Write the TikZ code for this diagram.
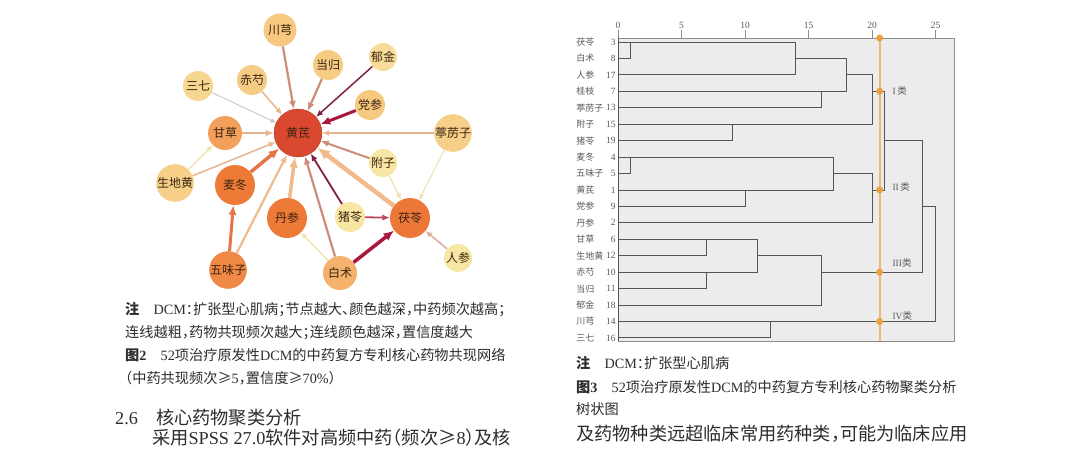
\documentclass[tikz,border=0pt]{standalone}
\usepackage{fontspec}
\setmainfont{Liberation Serif}
\newfontfamily\zh{Noto Sans CJK SC}[RawFeature={+halt}]
\usetikzlibrary{arrows.meta,positioning}
\definecolor{hqred}{RGB}{218,72,48}
\definecolor{deeporange}{RGB}{238,122,56}
\definecolor{midorange}{RGB}{242,160,92}
\definecolor{softorange}{RGB}{246,200,128}
\definecolor{paleyellow}{RGB}{247,230,164}
\definecolor{herbtext}{RGB}{60,36,16}
\definecolor{edgerose}{RGB}{205,140,120}
\definecolor{edgetan}{RGB}{232,182,142}
\definecolor{edgegray}{RGB}{200,196,190}
\definecolor{edgeplum}{RGB}{128,32,72}
\definecolor{edgecrimson}{RGB}{170,22,60}
\definecolor{edgeorange}{RGB}{230,118,74}
\definecolor{edgepeach}{RGB}{242,186,138}
\definecolor{edgepale}{RGB}{240,224,172}
\definecolor{captext}{RGB}{45,45,45}
\definecolor{boxgray}{RGB}{236,236,236}
\definecolor{boxedge}{RGB}{140,140,140}
\definecolor{treegray}{RGB}{85,85,85}
\definecolor{labgray}{RGB}{90,90,90}
\definecolor{cutorange}{RGB}{240,176,96}
\definecolor{dotorange}{RGB}{232,160,64}

\begin{document}
\begin{tikzpicture}[
  x=1pt,y=-1pt,
  herb/.style={circle,inner sep=0pt,font=\zh\fontsize{12}{12}\selectfont,text=herbtext},
  link/.style={-{Latex[length=4pt 1.9,width=3.5pt 1.6]}},
  capline/.style={anchor=west,inner sep=0pt,text=captext,font=\fontsize{14.2}{15}\selectfont},
  bodyline/.style={anchor=west,inner sep=0pt,text=captext,font=\fontsize{18.2}{20}\selectfont},
  treeline/.style={draw=treegray,line width=0.9pt},
  treelab/.style={inner sep=0pt,text=labgray,font=\fontsize{9.5}{10}\selectfont}
]
  \fill[white] (0,0) rectangle (1080,459);
  \useasboundingbox (0,0) rectangle (1080,459);

  % Co-occurrence network
  \node[herb,minimum size=48pt,fill=hqred,draw=hqred!80!black] (huangqi) at (298,133) {黄芪};
  \node[herb,minimum size=33pt,fill=softorange] (chuanxiong) at (280,30) {川芎};
  \node[herb,minimum size=30pt,fill=softorange!85!paleyellow] (danggui) at (328,65) {当归};
  \node[herb,minimum size=30pt,fill=softorange!90!paleyellow] (chishao) at (252,80) {赤芍};
  \node[herb,minimum size=30pt,fill=softorange!50!paleyellow] (sanqi) at (198,86) {三七};
  \node[herb,minimum size=28pt,fill=softorange!30!paleyellow] (yujin) at (383,57) {郁金};
  \node[herb,minimum size=30pt,fill=softorange] (dangshen) at (370,105) {党参};
  \node[herb,minimum size=32pt,fill=softorange!75!paleyellow] (tinglizi) at (453,133) {葶苈子};
  \node[herb,minimum size=34pt,fill=midorange] (gancao) at (225,133) {甘草};
  \node[herb,minimum size=32pt,fill=softorange!75!paleyellow] (shengdihuang) at (175,183) {生地黄};
  \node[herb,minimum size=28pt,fill=paleyellow] (fuzi) at (383,163) {附子};
  \node[herb,minimum size=40pt,fill=deeporange] (maidong) at (235,185) {麦冬};
  \node[herb,minimum size=40pt,fill=deeporange] (danshen) at (287,218) {丹参};
  \node[herb,minimum size=30pt,fill=paleyellow] (zhuling) at (350,217) {猪苓};
  \node[herb,minimum size=40pt,fill=deeporange!95!hqred] (fuling) at (410,218) {茯苓};
  \node[herb,minimum size=36pt,fill=deeporange!60!midorange] (wuweizi) at (228,270) {五味子};
  \node[herb,minimum size=34pt,fill=midorange!55!softorange] (baizhu) at (340,273) {白术};
  \node[herb,minimum size=28pt,fill=paleyellow] (renshen) at (458,258) {人参};

  \draw[link,edgerose,line width=2.2pt] (chuanxiong) -- (huangqi);
  \draw[link,edgerose,line width=2.2pt] (danggui) -- (huangqi);
  \draw[link,edgetan,line width=1.5pt] (chishao) -- (huangqi);
  \draw[link,edgegray,line width=0.8pt] (sanqi) -- (huangqi);
  \draw[link,edgeplum,line width=1.5pt] (yujin) -- (huangqi);
  \draw[link,edgecrimson,line width=3pt] (dangshen) -- (huangqi);
  \draw[link,edgetan,line width=1.5pt] (tinglizi) -- (huangqi);
  \draw[link,edgetan,line width=2.2pt] (gancao) -- (huangqi);
  \draw[link,edgetan,line width=1.5pt] (shengdihuang) -- (huangqi);
  \draw[link,edgepale,line width=1.2pt] (shengdihuang) -- (gancao);
  \draw[link,edgeorange,line width=3.5pt] (maidong) -- (huangqi);
  \draw[link,edgeorange,line width=3pt] (wuweizi) -- (maidong);
  \draw[link,edgepeach,line width=2.2pt] (wuweizi) -- (huangqi);
  \draw[link,edgepeach,line width=3.5pt] (danshen) -- (huangqi);
  \draw[link,edgerose,line width=2.2pt] (baizhu) -- (huangqi);
  \draw[link,edgepale,line width=1.2pt] (baizhu) -- (danshen);
  \draw[link,edgecrimson,line width=3.5pt] (baizhu) -- (fuling);
  \draw[link,edgeplum,line width=1.8pt] (zhuling) -- (huangqi);
  \draw[link,edgecrimson!80!white,line width=1.8pt] (zhuling) -- (fuling);
  \draw[link,edgepeach,line width=4.5pt] (fuling) -- (huangqi);
  \draw[link,edgerose,line width=2pt] (fuzi) -- (huangqi);
  \draw[link,edgepale,line width=1.2pt] (fuzi) -- (fuling);
  \draw[link,edgepale,line width=1pt] (tinglizi) -- (fuling);
  \draw[link,edgerose!70!white,line width=1.5pt] (renshen) -- (fuling);

  % Caption of the network
  \node[capline] (note2a) at (125,310) {{\zh\bfseries 注}\quad DCM{\zh ：扩张型心肌病；节点越大、颜色越深，中药频次越高；}};
  \node[capline] (note2b) at (125,333) {\zh 连线越粗，药物共现频次越大；连线颜色越深，置信度越大};
  \node[capline] (fig2a) at (125,355) {{\zh\bfseries 图}\textbf{2}\quad 52{\zh 项治疗原发性}DCM{\zh 的中药复方专利核心药物共现网络}};
  \node[capline] (fig2b) at (125,378) {{\zh （中药共现频次≥}5{\zh ，置信度≥}70\%{\zh ）}};
  \node[bodyline] (sec26) at (115,418) {2.6\quad{\zh 核心药物聚类分析}};
  \node[bodyline] (body1) at (152,438) {{\zh 采用}SPSS 27.0{\zh 软件对高频中药（频次≥}8{\zh ）及核}};

  % Dendrogram
  \begin{scope}[shift={(618,42)},x=12.7pt,y=-16.44pt]
    \filldraw[fill=boxgray,draw=boxedge,line width=0.8pt] (0,-0.243) rectangle (26.46,18.19);
    \draw[treegray,line width=1pt] (0,-0.243) -- (0,18.19);
    \foreach \t in {0,5,...,25} {
      \draw[boxedge,line width=0.8pt] (\t,-0.75) -- (\t,-0.243);
      \node[treelab] (tick\t) at (\t,-1.02) {\t};
    }
    \foreach \nm/\num [count=\i from 0] in {茯苓/3,白术/8,人参/17,桂枝/7,葶苈子/13,附子/15,
        猪苓/19,麦冬/4,五味子/5,黄芪/1,党参/9,丹参/2,甘草/6,生地黄/12,赤芍/10,当归/11,
        郁金/18,川芎/14,三七/16} {
      \node[treelab,anchor=west,font=\zh\fontsize{9}{10}\selectfont] (row\i) at (-3.3,\i) {\nm};
      \node[treelab,anchor=east] (num\i) at (-0.18,\i) {\num};
    }
    % cluster I
    \draw[treeline] (0,0) -- (14,0) -- (14,2) -- (0,2);
    \draw[treeline] (0,1) -- (1,1) -- (1,0);
    \draw[treeline] (14,1) -- (18,1) -- (18,3) -- (0,3);
    \draw[treeline] (0,4) -- (16,4) -- (16,3);
    \draw[treeline] (18,2) -- (20,2) -- (20,5) -- (0,5);
    \draw[treeline] (0,6) -- (9,6) -- (9,5);
    \draw[treeline] (20,3) -- (21,3) -- (21,9) -- (20,9);
    % cluster II
    \draw[treeline] (0,7) -- (17,7) -- (17,9) -- (0,9);
    \draw[treeline] (0,8) -- (1,8) -- (1,7);
    \draw[treeline] (17,8) -- (20,8) -- (20,11) -- (0,11);
    \draw[treeline] (0,10) -- (10,10) -- (10,9);
    \draw[treeline] (21,6) -- (24,6) -- (24,14) -- (16,14);
    % cluster III and IV
    \draw[treeline] (0,12) -- (11,12) -- (11,14) -- (0,14);
    \draw[treeline] (0,13) -- (7,13) -- (7,12);
    \draw[treeline] (0,15) -- (7,15) -- (7,14);
    \draw[treeline] (11,13) -- (16,13) -- (16,16) -- (0,16);
    \draw[treeline] (24,10) -- (25,10) -- (25,17) -- (0,17);
    \draw[treeline] (0,18) -- (12,18) -- (12,17);
    % cut line
    \draw[cutorange,line width=2.2pt,opacity=0.85] (20.6,-0.243) -- (20.6,18.19);
    \foreach \r in {-0.243,3,9,14,17}
      \fill[dotorange] (20.6,\r) circle[radius=3.5pt];
    \node[treelab,anchor=west] (cls1) at (21.6,2.95) {I\,{\zh 类}};
    \node[treelab,anchor=west] (cls2) at (21.6,8.8) {II\,{\zh 类}};
    \node[treelab,anchor=west] (cls3) at (21.6,13.45) {III{\zh 类}};
    \node[treelab,anchor=west] (cls4) at (21.6,16.65) {IV{\zh 类}};
  \end{scope}

  % Caption of the dendrogram
  \node[capline] (note3) at (576,363) {{\zh\bfseries 注}\quad DCM{\zh ：扩张型心肌病}};
  \node[capline] (fig3a) at (576,387) {{\zh\bfseries 图}\textbf{3}\quad 52{\zh 项治疗原发性}DCM{\zh 的中药复方专利核心药物聚类分析}};
  \node[capline] (fig3b) at (576,409) {\zh 树状图};
  \node[bodyline] (body2) at (576,434) {\zh 及药物种类远超临床常用药种类，可能为临床应用};
\end{tikzpicture}
\end{document}
